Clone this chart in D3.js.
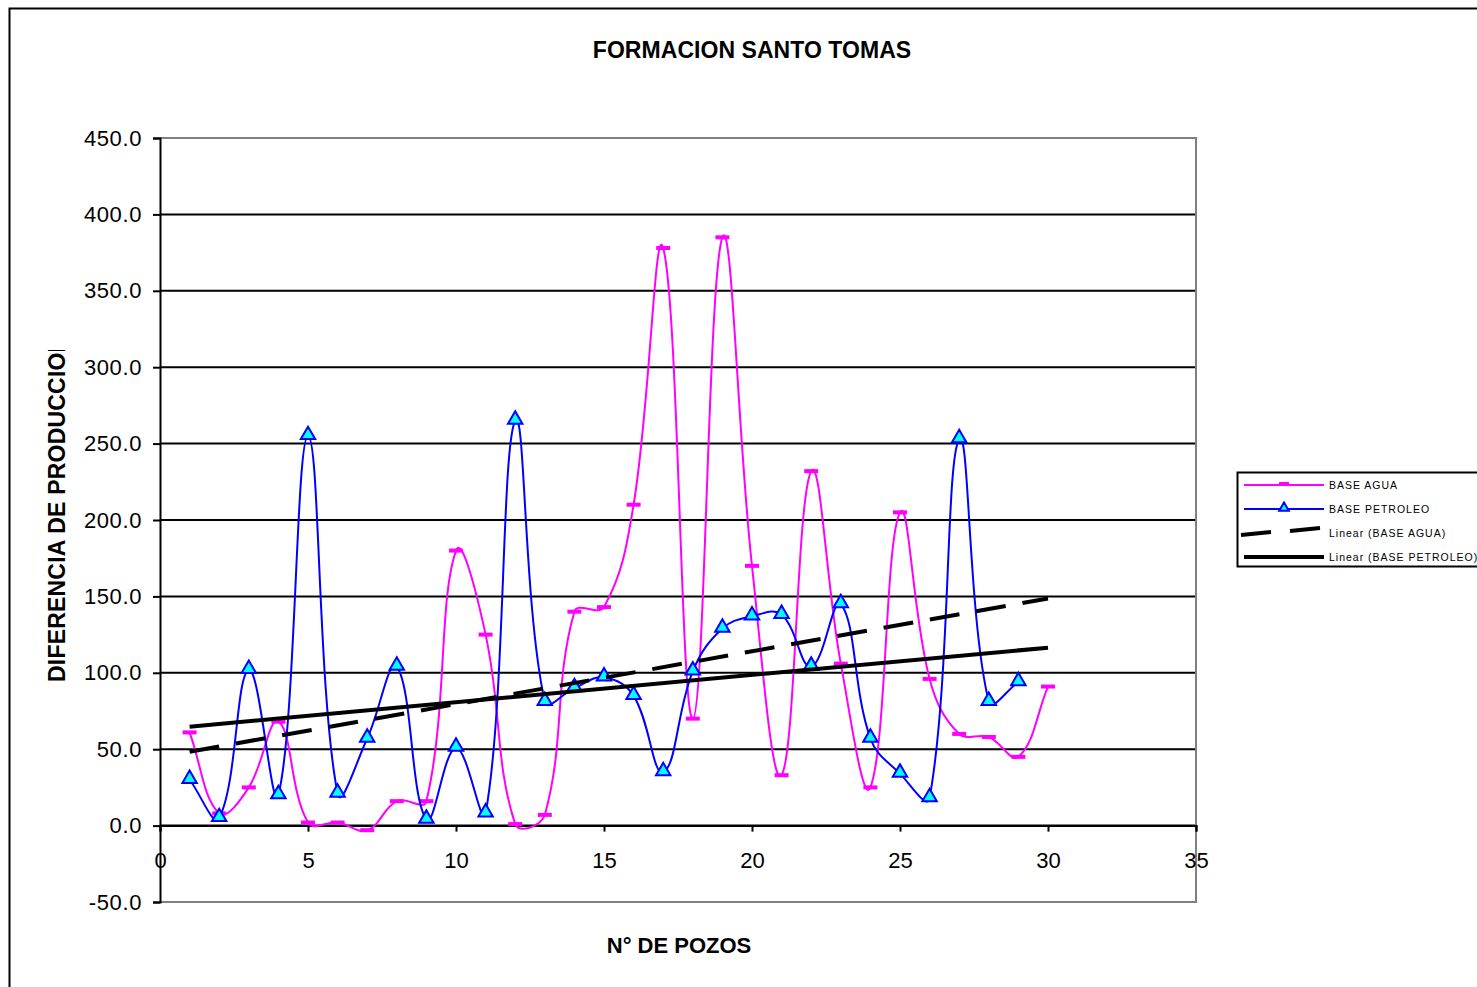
<!DOCTYPE html>
<html><head><meta charset="utf-8">
<script src="https://cdnjs.cloudflare.com/ajax/libs/d3/7.8.5/d3.min.js"></script>
<style>body{margin:0;background:#fff}svg{display:block;font-family:"Liberation Sans",Arial,sans-serif}</style>
</head><body>
<svg id="c" width="1477" height="987"></svg>
<script>
const pozos = [1,2,3,4,5,6,7,8,9,10,11,12,13,14,15,16,17,18,19,20,21,22,23,24,25,26,27,28,29,30];
const baseAgua = [61,8,25,68,2,2,-3,16,16,180,125,1,7,140,143,210,378,70,385,170,33,232,106,25,205,96,60,58,45,91];
const pozosPet = [1,2,3,4,5,6,7,8,9,10,11,12,13,14,15,16,17,18,19,20,21,22,23,24,25,26,27,28,29];
const basePetroleo = [30,5,102,20,255,21,57,104,4,51,8,265,81,90,97,85,35,101,129,137,138,104,145,57,34,18,253,81,94];
const yTicks = [-50,0,50,100,150,200,250,300,350,400,450];
const xTicks = [0,5,10,15,20,25,30,35];
const legendLabels = ["BASE AGUA","BASE PETROLEO","Linear (BASE AGUA)","Linear (BASE PETROLEO)"];

const svg = d3.select("#c");
const x = d3.scaleLinear().domain([0,35]).range([160,1196]);
const y = d3.scaleLinear().domain([-50,450]).range([902,138]);

svg.append("rect").attr("x",9.5).attr("y",8.5).attr("width",1480).attr("height",990)
  .attr("fill","none").attr("stroke","#000").attr("stroke-width",2);

svg.append("text").attr("x",752).attr("y",58).attr("text-anchor","middle")
  .attr("font-size",23).attr("font-weight","bold").attr("letter-spacing",0.05).text("FORMACION SANTO TOMAS");

svg.append("g").selectAll("line").data(yTicks.filter(d=>d>-50&&d<450)).join("line")
  .attr("x1",160).attr("x2",1196).attr("y1",d=>y(d)).attr("y2",d=>y(d))
  .attr("stroke","#000").attr("stroke-width",2);

svg.append("path").attr("d",`M160,${y(450)}H1196V${y(-50)}H160`).attr("fill","none")
  .attr("stroke","#808080").attr("stroke-width",2);

const fmtY = d => d3.format(".1f")(d).replace("\u2212","-");
const yAxis = d3.axisLeft(y).tickValues(yTicks).tickFormat(fmtY).tickSize(7).tickPadding(11);
const gy = svg.append("g").attr("transform","translate(160,0)").call(yAxis);
gy.select(".domain").attr("stroke","#000").attr("stroke-width",2);
gy.selectAll(".tick line").attr("stroke","#000").attr("stroke-width",2);
gy.selectAll("text").attr("font-size",22).attr("letter-spacing",0.6).attr("fill","#000").attr("font-family","Liberation Sans, Arial");

const xAxis = d3.axisBottom(x).tickValues(xTicks).tickFormat(d3.format("d")).tickSize(6).tickPadding(21);
const gx = svg.append("g").attr("transform",`translate(0,${y(0)})`).call(xAxis);
gx.select(".domain").attr("stroke","#000").attr("stroke-width",2);
gx.selectAll(".tick line").attr("stroke","#000").attr("stroke-width",2);
gx.selectAll("text").attr("font-size",22).attr("fill","#000").attr("font-family","Liberation Sans, Arial");

// Excel-like smoothing: Catmull-Rom tangent, scaled by chord ratio
function smoothPath(pts, f){
  const P = pts.map(d=>[x(d[0]), y(d[1])]);
  const n = P.length;
  const dist=(a,b)=>Math.hypot(b[0]-a[0],b[1]-a[1]);
  let s = `M${P[0][0]},${P[0][1]}`;
  for(let i=0;i<n-1;i++){
    const p0=P[Math.max(i-1,0)], p1=P[i], p2=P[i+1], p3=P[Math.min(i+2,n-1)];
    const d01=dist(p0,p1), d12=dist(p1,p2), d23=dist(p2,p3);
    const k1 = (d01+d12)>0 ? 2*d12/(d01+d12) : 1;
    const k2 = (d12+d23)>0 ? 2*d12/(d12+d23) : 1;
    const c1=[p1[0]+f*k1*(p2[0]-p0[0]), p1[1]+f*k1*(p2[1]-p0[1])];
    const c2=[p2[0]-f*k2*(p3[0]-p1[0]), p2[1]-f*k2*(p3[1]-p1[1])];
    s+=`C${c1[0]},${c1[1]} ${c2[0]},${c2[1]} ${p2[0]},${p2[1]}`;
  }
  return s;
}
const agua = pozos.map((p,i)=>[p,baseAgua[i]]);
const pet = pozosPet.map((p,i)=>[p,basePetroleo[i]]);

svg.append("path").attr("d",smoothPath(agua,0.2)).attr("fill","none").attr("stroke","#ff00ff").attr("stroke-width",2);
svg.append("g").selectAll("rect").data(agua).join("rect")
  .attr("x",d=>x(d[0])-7).attr("y",d=>y(d[1])-2).attr("width",14).attr("height",4).attr("fill","#ff00ff");

svg.append("path").attr("d",smoothPath(pet,0.2)).attr("fill","none").attr("stroke","#0000ff").attr("stroke-width",2);
const tri = d3.symbol().type(d3.symbolTriangle).size(90);
svg.append("g").selectAll("path").data(pet).join("path")
  .attr("d",tri).attr("transform",d=>`translate(${x(d[0])},${y(d[1])-1})`)
  .attr("fill","#00ffff").attr("stroke","#0000ff").attr("stroke-width",2);

function fit(pts){
  const mx=d3.mean(pts,d=>d[0]), my=d3.mean(pts,d=>d[1]);
  const b=d3.sum(pts,d=>(d[0]-mx)*(d[1]-my))/d3.sum(pts,d=>(d[0]-mx)**2);
  return v=>my+b*(v-mx);
}
const fA=fit(agua), fP=fit(pet);
svg.append("line").attr("x1",x(1)).attr("x2",x(30)).attr("y1",y(fA(1))).attr("y2",y(fA(30)))
  .attr("stroke","#000").attr("stroke-width",4).attr("stroke-dasharray","30,17");
svg.append("line").attr("x1",x(1)).attr("x2",x(30)).attr("y1",y(fP(1))).attr("y2",y(fP(30)))
  .attr("stroke","#000").attr("stroke-width",4);

svg.append("text").attr("x",679).attr("y",953).attr("text-anchor","middle")
  .attr("font-size",22).attr("font-weight","bold").text("N° DE POZOS");
svg.append("defs").append("clipPath").attr("id","yclip").append("rect").attr("x",0).attr("y",350).attr("width",120).attr("height",400);
svg.append("g").attr("clip-path","url(#yclip)").append("text").attr("transform","translate(65,682) rotate(-90)")
  .attr("font-size",23).attr("font-weight","bold").attr("letter-spacing",0.2).text("DIFERENCIA DE PRODUCCION (BPD)");

const lg = svg.append("g");
lg.append("rect").attr("x",1237.5).attr("y",472.5).attr("width",300).attr("height",94)
  .attr("fill","#fff").attr("stroke","#000").attr("stroke-width",2);
const ly = [485,509,533,557];
lg.append("line").attr("x1",1244).attr("x2",1324).attr("y1",ly[0]).attr("y2",ly[0]).attr("stroke","#ff00ff").attr("stroke-width",2);
lg.append("rect").attr("x",1279).attr("y",ly[0]-3).attr("width",10).attr("height",4).attr("fill","#ff00ff");
lg.append("line").attr("x1",1244).attr("x2",1324).attr("y1",ly[1]).attr("y2",ly[1]).attr("stroke","#0000ff").attr("stroke-width",2);
lg.append("path").attr("d",d3.symbol().type(d3.symbolTriangle).size(40)).attr("transform",`translate(1284,${ly[1]-1})`)
  .attr("fill","#00ffff").attr("stroke","#0000ff").attr("stroke-width",2);
lg.append("path").attr("d",`M1241,${ly[2]+2}L1271,${ly[2]-1}M1290,${ly[2]-2}L1320,${ly[2]-5}`).attr("stroke","#000").attr("stroke-width",4);
lg.append("line").attr("x1",1244).attr("x2",1324).attr("y1",ly[3]).attr("y2",ly[3]).attr("stroke","#000").attr("stroke-width",4);
lg.selectAll("text.l").data(legendLabels).join("text").attr("class","l")
  .attr("x",1329).attr("y",(d,i)=>ly[i]+4).attr("font-size",10.5).attr("letter-spacing",1).text(d=>d);
</script>
</body></html>
